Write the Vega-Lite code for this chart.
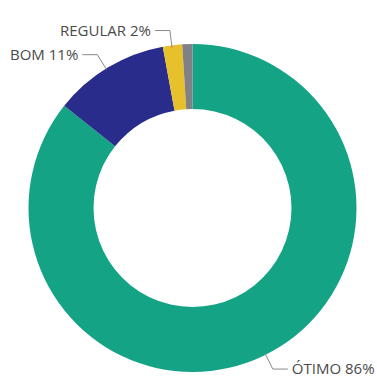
{
  "$schema": "https://vega.github.io/schema/vega-lite/v6.json",
  "width": 377,
  "height": 381,
  "autosize": {"type": "fit", "contains": "padding"},
  "padding": {"left": 8, "top": 23, "right": 0, "bottom": 0},
  "background": "white",
  "config": {"view": {"stroke": null}},
  "data": {
    "values": [
      {"categoria": "ÓTIMO", "valor": 85.7, "ordem": 1},
      {"categoria": "BOM", "valor": 11.4, "ordem": 2},
      {"categoria": "REGULAR", "valor": 1.9, "ordem": 3},
      {"categoria": "RUIM", "valor": 1.0, "ordem": 4}
    ]
  },
  "transform": [
    {"joinaggregate": [{"op": "sum", "field": "valor", "as": "total"}]},
    {"window": [{"op": "sum", "field": "valor", "as": "acum"}], "sort": [{"field": "ordem"}], "frame": [null, 0]},
    {"calculate": "(datum.acum - datum.valor / 2) / datum.total * 2 * PI", "as": "ang"},
    {"calculate": "sin(datum.ang)", "as": "s"},
    {"calculate": "cos(datum.ang)", "as": "c"},
    {"calculate": "167 * datum.s", "as": "x1"},
    {"calculate": "167 * datum.c", "as": "y1"},
    {"calculate": "185 * datum.s", "as": "x2"},
    {"calculate": "185 * datum.c", "as": "y2"},
    {"calculate": "datum.x2 + (datum.s < 0 ? -15 : 15)", "as": "xh"},
    {"calculate": "datum.xh + (datum.s < 0 ? -4 : 4)", "as": "xt"},
    {"calculate": "datum.categoria + ' ' + format(datum.valor / datum.total, '.0%')", "as": "rotulo"}
  ],
  "layer": [
    {
      "mark": {"type": "arc", "outerRadius": 164, "innerRadius": 99},
      "encoding": {
        "theta": {"field": "valor", "type": "quantitative", "stack": true},
        "order": {"field": "ordem", "type": "quantitative"},
        "color": {
          "field": "categoria",
          "type": "nominal",
          "legend": null,
          "scale": {
            "domain": ["ÓTIMO", "BOM", "REGULAR", "RUIM"],
            "range": ["#14A384", "#2A2C8C", "#E6C12C", "#808085"]
          }
        }
      }
    },
    {
      "transform": [{"filter": "datum.categoria != 'RUIM'"}],
      "mark": {"type": "rule", "color": "#8a8a8a", "strokeWidth": 1},
      "encoding": {
        "x": {"field": "x1", "type": "quantitative", "scale": {"domain": [-184.5, 184.5], "nice": false, "zero": false}, "axis": null},
        "y": {"field": "y1", "type": "quantitative", "scale": {"domain": [-179, 179], "nice": false, "zero": false}, "axis": null},
        "x2": {"field": "x2"},
        "y2": {"field": "y2"}
      }
    },
    {
      "transform": [{"filter": "datum.categoria != 'RUIM'"}],
      "mark": {"type": "rule", "color": "#8a8a8a", "strokeWidth": 1},
      "encoding": {
        "x": {"field": "x2", "type": "quantitative"},
        "y": {"field": "y2", "type": "quantitative"},
        "x2": {"field": "xh"},
        "y2": {"field": "y2"}
      }
    },
    {
      "transform": [{"filter": "datum.categoria != 'RUIM'"}],
      "mark": {
        "type": "text",
        "font": "Open Sans",
        "fontSize": 15,
        "color": "#4a4a4a",
        "baseline": "middle",
        "align": {"expr": "datum.s < 0 ? 'right' : 'left'"}
      },
      "encoding": {
        "x": {"field": "xt", "type": "quantitative"},
        "y": {"field": "y2", "type": "quantitative"},
        "text": {"field": "rotulo"}
      }
    }
  ]
}
